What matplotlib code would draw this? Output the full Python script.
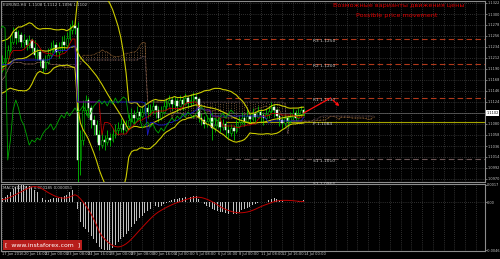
import numpy as np
import pandas as pd
import matplotlib
matplotlib.use("Agg")
import matplotlib.pyplot as plt

plt.rcParams['font.family'] = ['DejaVu Sans']

# ---------------- data (EURUSD H4) ----------------
prior_close = [1.1168, 1.1184, 1.1208, 1.1228, 1.1238, 1.1218, 1.1192, 1.1172, 1.1158, 1.1168,
               1.1188, 1.1212, 1.1232, 1.1244, 1.1228, 1.1204, 1.1178, 1.1158, 1.1152, 1.1168,
               1.1188, 1.1208, 1.1224, 1.1212, 1.1196, 1.1188]
prior_high = [1.1180, 1.1196, 1.1220, 1.1240, 1.1250, 1.1240, 1.1222, 1.1194, 1.1176, 1.1172,
              1.1196, 1.1220, 1.1244, 1.1256, 1.1246, 1.1230, 1.1208, 1.1182, 1.1164, 1.1174,
              1.1194, 1.1214, 1.1234, 1.1230, 1.1216, 1.1200]
prior_low = [1.1156, 1.1164, 1.1180, 1.1202, 1.1222, 1.1210, 1.1186, 1.1164, 1.1150, 1.1152,
             1.1164, 1.1184, 1.1206, 1.1226, 1.1220, 1.1196, 1.1170, 1.1150, 1.1142, 1.1148,
             1.1164, 1.1184, 1.1204, 1.1206, 1.1190, 1.1180]

close_prices = [1.1204, 1.1212, 1.1228, 1.1244, 1.1264, 1.1252, 1.1258, 1.1244, 1.1248, 1.1238,
                1.1248, 1.1232, 1.1218, 1.1224, 1.1208, 1.1192, 1.1204, 1.1218, 1.1232, 1.1238,
                1.1224, 1.1232, 1.1244, 1.1238, 1.1252, 1.1268, 1.1276, 1.1272, 1.1008, 1.1048,
                1.1108, 1.1128, 1.1112, 1.1088, 1.1078, 1.1058, 1.1038, 1.1048, 1.1044, 1.1052,
                1.1048, 1.1060, 1.1068, 1.1072, 1.1080, 1.1068, 1.1076, 1.1088, 1.1098, 1.1092,
                1.1104, 1.1096, 1.1104, 1.1112, 1.1104, 1.1108, 1.1116, 1.1108, 1.1092, 1.1104,
                1.1116, 1.1122, 1.1128, 1.1120, 1.1126, 1.1116, 1.1128, 1.1120, 1.1132, 1.1122,
                1.1128, 1.1134, 1.1130, 1.1092, 1.1088, 1.1080, 1.1086, 1.1092, 1.1072, 1.1078,
                1.1084, 1.1074, 1.1080, 1.1068, 1.1062, 1.1072, 1.1066, 1.1076, 1.1084, 1.1092,
                1.1086, 1.1096, 1.1090, 1.1100, 1.1094, 1.1104, 1.1098, 1.1092, 1.1100, 1.1106,
                1.1114, 1.1108, 1.1096, 1.1088, 1.1082, 1.1092, 1.1086, 1.1094, 1.1102, 1.1092,
                1.1100, 1.1108, 1.1102]
high_prices = [1.1218, 1.1228, 1.1238, 1.1258, 1.1274, 1.1272, 1.1268, 1.1264, 1.1260, 1.1252,
               1.1258, 1.1252, 1.1248, 1.1232, 1.1228, 1.1212, 1.1218, 1.1232, 1.1244, 1.1248,
               1.1244, 1.1244, 1.1256, 1.1258, 1.1264, 1.1280, 1.1288, 1.1288, 1.1284, 1.1068,
               1.1128, 1.1138, 1.1134, 1.1118, 1.1098, 1.1088, 1.1068, 1.1064, 1.1058, 1.1068,
               1.1062, 1.1072, 1.1080, 1.1084, 1.1092, 1.1088, 1.1088, 1.1100, 1.1112, 1.1108,
               1.1116, 1.1112, 1.1116, 1.1124, 1.1120, 1.1120, 1.1128, 1.1120, 1.1116, 1.1116,
               1.1128, 1.1132, 1.1138, 1.1134, 1.1136, 1.1132, 1.1138, 1.1134, 1.1142, 1.1136,
               1.1140, 1.1144, 1.1142, 1.1134, 1.1102, 1.1096, 1.1098, 1.1104, 1.1104, 1.1092,
               1.1098, 1.1092, 1.1090, 1.1086, 1.1078, 1.1080, 1.1078, 1.1088, 1.1096, 1.1104,
               1.1100, 1.1108, 1.1104, 1.1112, 1.1106, 1.1116, 1.1110, 1.1104, 1.1112, 1.1116,
               1.1124, 1.1120, 1.1112, 1.1102, 1.1096, 1.1100, 1.1098, 1.1104, 1.1112, 1.1108,
               1.1112, 1.1116, 1.1112]
low_prices = [1.1184, 1.1196, 1.1204, 1.1224, 1.1240, 1.1240, 1.1244, 1.1234, 1.1232, 1.1228,
              1.1232, 1.1224, 1.1212, 1.1208, 1.1196, 1.1184, 1.1188, 1.1200, 1.1212, 1.1224,
              1.1216, 1.1212, 1.1224, 1.1228, 1.1232, 1.1248, 1.1260, 1.1260, 1.0960, 1.0978,
              1.1038, 1.1098, 1.1098, 1.1072, 1.1058, 1.1044, 1.1028, 1.1032, 1.1028, 1.1038,
              1.1036, 1.1044, 1.1052, 1.1058, 1.1064, 1.1060, 1.1064, 1.1072, 1.1084, 1.1080,
              1.1088, 1.1084, 1.1092, 1.1098, 1.1092, 1.1096, 1.1100, 1.1092, 1.1084, 1.1088,
              1.1100, 1.1108, 1.1116, 1.1108, 1.1112, 1.1104, 1.1116, 1.1108, 1.1120, 1.1112,
              1.1116, 1.1120, 1.1116, 1.1084, 1.1078, 1.1072, 1.1074, 1.1080, 1.1048, 1.1064,
              1.1072, 1.1064, 1.1068, 1.1056, 1.1052, 1.1056, 1.1048, 1.1062, 1.1072, 1.1080,
              1.1076, 1.1084, 1.1080, 1.1086, 1.1080, 1.1092, 1.1084, 1.1078, 1.1088, 1.1092,
              1.1100, 1.1094, 1.1088, 1.1076, 1.1072, 1.1076, 1.1074, 1.1082, 1.1088, 1.1086,
              1.1090, 1.1094, 1.1096]

time_labels = ["17 Jun 2016", "20 Jun 16:00", "22 Jun 00:00", "23 Jun 08:00", "24 Jun 16:00",
               "28 Jun 00:00", "29 Jun 08:00", "30 Jun 16:00", "4 Jul 00:00", "5 Jul 08:00",
               "6 Jul 16:00", "8 Jul 00:00", "11 Jul 08:00", "12 Jul 16:00", "14 Jul 00:00"]
time_label_bars = [0, 8, 16, 24, 32, 40, 48, 56, 64, 72, 80, 88, 96, 104, 112]

price_ticks = [1.1322, 1.1300, 1.1278, 1.1256, 1.1234, 1.1212, 1.1190, 1.1168, 1.1146,
               1.1124, 1.1102, 1.1080, 1.1058, 1.1036, 1.1014, 1.0992, 1.0970]

pivot_names = ["R3", "R2", "R1", "P", "S1", "S2"]
pivot_values = [1.1250, 1.1200, 1.1132, 1.1084, 1.1010, 1.0964]

forecast_bars = [112, 122, 126]
forecast_prices = [1.1102, 1.1132, 1.1112]

# ---------------- computations ----------------
n_prior = len(prior_close)
c_all = pd.Series(prior_close + close_prices)
h_all = pd.Series(prior_high + high_prices)
l_all = pd.Series(prior_low + low_prices)
idx_all = np.arange(len(c_all)) - n_prior

bb_mid = c_all.rolling(20).mean()
bb_sd = c_all.rolling(20).std(ddof=0)
bb_up = bb_mid + 2 * bb_sd
bb_lo = bb_mid - 2 * bb_sd

tenkan = (h_all.rolling(9, min_periods=1).max() + l_all.rolling(9, min_periods=1).min()) / 2
kijun = (h_all.rolling(26, min_periods=1).max() + l_all.rolling(26, min_periods=1).min()) / 2
span_a = (tenkan + kijun) / 2
span_b = (h_all.rolling(52, min_periods=1).max() + l_all.rolling(52, min_periods=1).min()) / 2

ema12 = c_all.ewm(span=12, adjust=False).mean()
ema26 = c_all.ewm(span=26, adjust=False).mean()
macd = ema12 - ema26
signal = macd.rolling(9).mean()

vis = idx_all >= 0
xb = np.arange(len(close_prices))
c = np.array(close_prices)
h = np.array(high_prices)
l = np.array(low_prices)
o = np.concatenate([[prior_close[-1]], c[:-1]])

# ---------------- figure ----------------
BG = 'black'
GRID = '#5a5a5a'
AXC = '#8c8c8c'
TXT = '#c8c8c8'
LBL = 2.5
fig = plt.figure(figsize=(5.0, 2.59), dpi=100, facecolor=BG)
ax = fig.add_axes([1 / 500, 1 - 182 / 259, 484 / 500, 181 / 259], facecolor=BG)
ax2 = fig.add_axes([1 / 500, 1 - 251 / 259, 484 / 500, 67 / 259], facecolor=BG)

XMAX = 179.4
for a in (ax, ax2):
    a.set_xlim(-0.5, XMAX)
    for s in a.spines.values():
        s.set_color(AXC)
        s.set_linewidth(0.8)
    a.set_xticks(np.arange(0, 180, 4))
    a.tick_params(axis='x', length=0, labelbottom=False)
    a.grid(True, axis='x', color=GRID, linestyle=(0, (1, 2)), linewidth=0.5)
    a.set_axisbelow(True)

ax.set_ylim(1.0964, 1.1326)
ax.yaxis.tick_right()
ax.set_yticks(price_ticks)
ax.set_yticklabels(["" if abs(v - close_prices[-1]) < 1e-6 else f"{v:.4f}" for v in price_ticks])
ax.tick_params(axis='y', labelsize=LBL, colors=TXT, length=1.2, width=0.4, pad=0.4)
ax.grid(True, axis='y', color=GRID, linestyle=(0, (1, 2)), linewidth=0.5)

# Ichimoku cloud (hatched dotted)
x_cloud = idx_all + 26
ax.vlines(x_cloud, np.minimum(span_a, span_b), np.maximum(span_a, span_b),
          colors='#6e5034', linestyles=(0, (1, 1.5)), linewidth=0.7, zorder=1)
ax.plot(x_cloud, span_a, color='#c08040', lw=0.5, ls=(0, (1, 1)), zorder=2)
ax.plot(x_cloud, span_b, color='#8a6a78', lw=0.5, ls=(0, (1, 1)), zorder=2)

# Pivot levels
for name, val in zip(pivot_names, pivot_values):
    if name.startswith('R'):
        col, ls = '#b0381a', (0, (5, 3))
    elif name == 'P':
        col, ls = '#a4a400', '-'
    else:
        col, ls = '#6e5858', (0, (5, 3))
    ax.hlines(val, 83, XMAX, colors=col, linestyles=ls, linewidth=0.8, zorder=2)
    ax.text(115.5, val - 0.0004, f"{name} {val:.4f}", color=TXT, fontsize=3.2,
            va='center', ha='left', zorder=6)

# bid line
ax.axhline(c[-1], color='#6a6a6a', lw=0.5, zorder=2)

# candles
green = '#00c000'
ax.vlines(xb, l, h, colors=green, linewidth=0.6, zorder=3)
bull = c >= o
body_lo = np.minimum(o, c)
body_h = np.maximum(np.abs(c - o), 0.00005)
ax.bar(xb[bull], body_h[bull], bottom=body_lo[bull], width=0.6, color='black',
       edgecolor=green, linewidth=0.4, zorder=3)
ax.bar(xb[~bull], body_h[~bull], bottom=body_lo[~bull], width=0.6, color='#e6fbe6',
       edgecolor='#e6fbe6', linewidth=0.3, zorder=3)

# Bollinger bands
yel = '#cccc00'
ax.plot(idx_all[vis], bb_up[vis], color=yel, lw=0.8, zorder=4)
ax.plot(idx_all[vis], bb_lo[vis], color=yel, lw=0.8, zorder=4)
ax.plot(idx_all[vis], bb_mid[vis], color=yel, lw=0.8, zorder=4)

# Ichimoku lines
ax.plot(idx_all[vis], tenkan[vis], color='#c00000', lw=0.6, zorder=4)
ax.plot(idx_all[vis], kijun[vis], color='#1a1ac8', lw=0.6, zorder=4)
ax.plot(idx_all - 26, c_all, color='#00a800', lw=0.6, zorder=4)

# forecast path
ax.plot(forecast_bars[:2], forecast_prices[:2], color='#ff1010', lw=0.9, zorder=6)
ax.annotate("", xy=(forecast_bars[2], forecast_prices[2]),
            xytext=(forecast_bars[1], forecast_prices[1]),
            arrowprops=dict(arrowstyle='-|>', color='#ff1010', lw=0.9, mutation_scale=4),
            zorder=6)

# current price box
ax.text(1.003, c[-1], f"{c[-1]:.4f}", transform=ax.get_yaxis_transform(), fontsize=LBL,
        color='black', va='center', ha='left',
        bbox=dict(boxstyle='square,pad=0.15', fc='white', ec='none'), zorder=7)

# title
ax.text(0.004, 0.99, f"EURUSD,H4  {o[-1]:.4f} {h[-1]:.4f} {l[-1]:.4f} {c[-1]:.4f}",
        transform=ax.transAxes, fontsize=2.8, color=TXT, va='top', ha='left', zorder=7)

# red captions
fig.text(399 / 500, 1 - 6 / 259, "Возможные варианты движения цены", color='#e00000',
         fontsize=4.6, ha='center', va='center')
fig.text(397 / 500, 1 - 15 / 259, "Possible price movement", color='#e00000',
         fontsize=4.6, ha='center', va='center')

# ---------------- MACD panel ----------------
mv = macd[vis].values
sv = signal[vis].values
ax2.bar(xb, mv, width=0.35, color='#c0c0c0', zorder=3)
ax2.plot(xb, sv, color='#c00000', lw=0.7, zorder=4)
mn = min(np.nanmin(mv), np.nanmin(sv))
mx = max(np.nanmax(mv), np.nanmax(sv))
ax2.set_ylim(mn * 1.02, mx * 1.05)
ax2.axhline(0, color=GRID, linestyle=(0, (1, 2)), linewidth=0.5, zorder=1)
ax2.yaxis.tick_right()
ax2.set_yticks([mx, 0, mn])
ax2.set_yticklabels([f"{mx:.4f}", "0.00", f"{mn:.4f}"])
ax2.tick_params(axis='y', labelsize=LBL, colors=TXT, length=1.2, width=0.4, pad=0.4)
ax2.text(0.004, 0.97, f"MACD(12,26,9) {mv[-1]:.6f} {sv[-1]:.6f}", transform=ax2.transAxes,
         fontsize=2.8, color=TXT, va='top', ha='left')

for b, lab in zip(time_label_bars, time_labels):
    ax2.text(b, -0.02, lab, transform=ax2.get_xaxis_transform(), fontsize=2.6,
             color=TXT, va='top', ha='left')

# watermark
fig.patches.append(plt.Rectangle((3 / 500, 1 - 250 / 259), 79 / 500, 10 / 259,
                                 transform=fig.transFigure, facecolor='#c8201e',
                                 edgecolor='none', alpha=0.92, zorder=10))
fig.text(42.5 / 500, 1 - 245 / 259, "[  www.instaforex.com  ]", color='white',
         fontsize=4.4, ha='center', va='center', zorder=11)

fig.savefig("out.png", dpi=100, facecolor=BG)
